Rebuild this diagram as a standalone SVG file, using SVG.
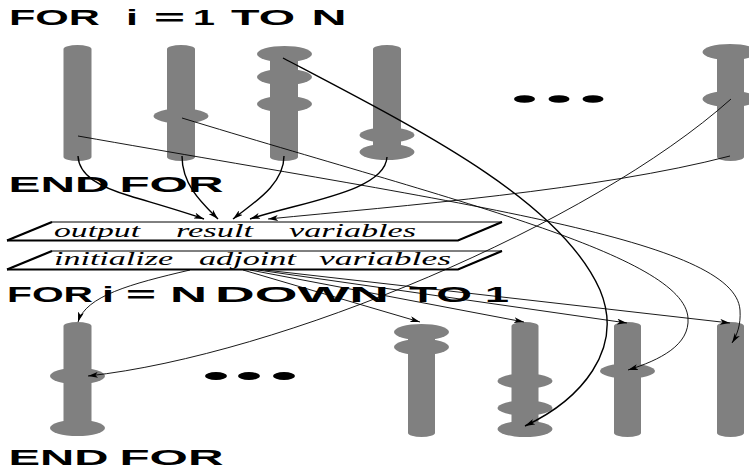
<svg xmlns="http://www.w3.org/2000/svg" width="749" height="470" viewBox="0 0 749 470">
  <style>
    .col { fill: #808080; }
    .dot { fill: #000; }
    .head { font-family: "Liberation Sans", Arial, sans-serif; font-weight: bold; font-size: 22px; fill: #000; }
    .lbl { font-family: "Liberation Serif", "Times New Roman", serif; font-style: italic; font-size: 18px; fill: #000; }
    .box { fill: #fff; stroke: #000; stroke-width: 1; }
    .shade { fill: none; stroke: #000; stroke-width: 2.2; }
    .thin { fill: none; stroke: #000; stroke-width: 0.9; marker-end: url(#ah); }
    .thick { fill: none; stroke: #000; stroke-width: 1.4; marker-end: url(#ah); }
  </style>
  <defs>
    <marker id="ah" viewBox="0 0 10 6" refX="10" refY="3" markerWidth="10" markerHeight="6" markerUnits="userSpaceOnUse" orient="auto">
      <path d="M0,0 L10,3 L0,6 L2.5,3 z" fill="#000"/>
    </marker>
  </defs>
  <rect width="749" height="470" fill="#fff"/>

  <!-- loop headings -->
  <g id="head-forward">
    <text class="head" x="9" y="25" textLength="91" lengthAdjust="spacingAndGlyphs">FOR</text>
    <text class="head" x="126" y="25" textLength="12" lengthAdjust="spacingAndGlyphs">i</text>
    <text class="head" x="154" y="25" textLength="31" lengthAdjust="spacingAndGlyphs">=</text>
    <text class="head" x="193" y="25" textLength="22" lengthAdjust="spacingAndGlyphs">1</text>
    <text class="head" x="231" y="25" textLength="64" lengthAdjust="spacingAndGlyphs">TO</text>
    <text class="head" x="311.5" y="25" textLength="35" lengthAdjust="spacingAndGlyphs">N</text>
  </g>
  <g id="head-forward-end">
    <text class="head" x="8.5" y="192" textLength="101" lengthAdjust="spacingAndGlyphs">END</text>
    <text class="head" x="119.5" y="192" textLength="104" lengthAdjust="spacingAndGlyphs">FOR</text>
  </g>
  <g id="head-reverse">
    <text class="head" x="7" y="302" textLength="86" lengthAdjust="spacingAndGlyphs">FOR</text>
    <text class="head" x="102" y="302" textLength="12" lengthAdjust="spacingAndGlyphs">i</text>
    <text class="head" x="126" y="302" textLength="30" lengthAdjust="spacingAndGlyphs">=</text>
    <text class="head" x="170" y="302" textLength="37" lengthAdjust="spacingAndGlyphs">N</text>
    <text class="head" x="215" y="302" textLength="174" lengthAdjust="spacingAndGlyphs">DOWN</text>
    <text class="head" x="409" y="302" textLength="63" lengthAdjust="spacingAndGlyphs">TO</text>
    <text class="head" x="485" y="302" textLength="24" lengthAdjust="spacingAndGlyphs">1</text>
  </g>
  <g id="head-reverse-end">
    <text class="head" x="8.5" y="465" textLength="100" lengthAdjust="spacingAndGlyphs">END</text>
    <text class="head" x="119.5" y="465" textLength="104" lengthAdjust="spacingAndGlyphs">FOR</text>
  </g>

  <!-- forward sweep: one bar per iteration -->
  <g id="fwd-1">
    <rect class="col" x="63.5" y="45" width="28" height="116" rx="14" ry="4"/>
  </g>
  <g id="fwd-2">
    <rect class="col" x="167" y="45" width="28" height="116" rx="14" ry="4"/>
    <ellipse class="col" cx="181" cy="116" rx="27.5" ry="7.5"/>
  </g>
  <g id="fwd-3">
    <rect class="col" x="270" y="50" width="28" height="111" rx="14" ry="4"/>
    <ellipse class="col" cx="284.5" cy="54" rx="27.5" ry="8"/>
    <ellipse class="col" cx="284.5" cy="77" rx="27.5" ry="8"/>
    <ellipse class="col" cx="284.5" cy="104" rx="27.5" ry="8"/>
  </g>
  <g id="fwd-4">
    <rect class="col" x="373" y="45" width="28" height="110" rx="14" ry="4"/>
    <ellipse class="col" cx="387" cy="135" rx="27.5" ry="7.5"/>
    <ellipse class="col" cx="387" cy="152" rx="27.5" ry="8"/>
  </g>
  <g id="fwd-dots">
    <ellipse class="dot" cx="524.5" cy="99" rx="10.5" ry="3.8"/>
    <ellipse class="dot" cx="559" cy="99" rx="10.5" ry="3.8"/>
    <ellipse class="dot" cx="593" cy="99" rx="10.5" ry="3.8"/>
  </g>
  <g id="fwd-n">
    <rect class="col" x="717" y="48" width="27" height="113" rx="13.5" ry="4"/>
    <ellipse class="col" cx="730" cy="52" rx="27.5" ry="8"/>
    <ellipse class="col" cx="730" cy="99" rx="27.5" ry="8"/>
  </g>

  <!-- reverse sweep -->
  <g id="rev-1">
    <rect class="col" x="63.5" y="322" width="28" height="108" rx="14" ry="4"/>
    <ellipse class="col" cx="77.5" cy="376" rx="27.5" ry="8"/>
    <ellipse class="col" cx="77.5" cy="428" rx="27.5" ry="8"/>
  </g>
  <g id="rev-dots">
    <ellipse class="dot" cx="216" cy="376" rx="11" ry="4"/>
    <ellipse class="dot" cx="249" cy="376" rx="11" ry="4"/>
    <ellipse class="dot" cx="284" cy="376" rx="11" ry="4"/>
  </g>
  <g id="rev-2">
    <rect class="col" x="408" y="330" width="27" height="107" rx="13.5" ry="4"/>
    <ellipse class="col" cx="421.5" cy="332" rx="27.5" ry="8"/>
    <ellipse class="col" cx="421.5" cy="347" rx="27.5" ry="8"/>
  </g>
  <g id="rev-3">
    <rect class="col" x="511.5" y="322" width="27" height="110" rx="13.5" ry="4"/>
    <ellipse class="col" cx="525" cy="381" rx="27.5" ry="7.5"/>
    <ellipse class="col" cx="525" cy="408" rx="27.5" ry="7.5"/>
    <ellipse class="col" cx="525" cy="429" rx="27.5" ry="8"/>
  </g>
  <g id="rev-4">
    <rect class="col" x="614" y="322" width="27" height="115" rx="13.5" ry="4"/>
    <ellipse class="col" cx="627.5" cy="371" rx="27.5" ry="7.5"/>
  </g>
  <g id="rev-n">
    <rect class="col" x="717" y="322" width="27" height="115" rx="13.5" ry="4"/>
  </g>

  <!-- variable blocks -->
  <g id="output-result">
    <polygon class="box" points="52,222 502,222 458,240.5 7,240.5"/>
    <path class="shade" d="M7,240.5 L458,240.5 L502,222"/>
    <path class="shade" d="M52,222 L7,240.5" stroke-width="1.6"/>
    <text class="lbl" x="54" y="237" textLength="86" lengthAdjust="spacingAndGlyphs">output</text>
    <text class="lbl" x="176" y="237" textLength="77" lengthAdjust="spacingAndGlyphs">result</text>
    <text class="lbl" x="289" y="237" textLength="127" lengthAdjust="spacingAndGlyphs">variables</text>
  </g>
  <g id="init-adjoint">
    <polygon class="box" points="52,251 502,251 458,269.5 7,269.5"/>
    <path class="shade" d="M7,269.5 L458,269.5 L502,251"/>
    <path class="shade" d="M52,251 L7,269.5" stroke-width="1.6"/>
    <text class="lbl" x="54" y="265" textLength="119" lengthAdjust="spacingAndGlyphs">initialize</text>
    <text class="lbl" x="199" y="265" textLength="97" lengthAdjust="spacingAndGlyphs">adjoint</text>
    <text class="lbl" x="319" y="265" textLength="132" lengthAdjust="spacingAndGlyphs">variables</text>
  </g>

  <!-- data flow -->
  <g id="connectors">
    <!-- forward bars into the output block -->
    <path class="thick" d="M78,156 C79,176 100,187 130,196 C160,205 185,212 204,219"/>
    <path class="thick" d="M182,156 C182,186 204,205 218,219"/>
    <path class="thick" d="M284,156 C284,186 250,205 233,219"/>
    <path class="thick" d="M387,157 C385,192 300,202 250,219"/>
    <path class="thin" d="M730,156 C600,190 400,206 268,219"/>

    <!-- forward values reused by the reverse sweep -->
    <path class="thin" d="M78,136 C470,205 735,240 740,310 C741,325 737,335 732,343"/>
    <path class="thin" d="M182,118 C450,200 684,255 688,318 C690,345 660,360 628,370"/>
    <path class="thick" d="M283,58 C420,130 560,200 600,290 C625,350 580,400 525,426"/>
    <path class="thin" d="M731,99 C590,225 280,355 88,376"/>

    <!-- adjoint initialisation into the reverse sweep -->
    <path class="thin" d="M190,270 C130,284 86,296 78,322"/>
    <path class="thin" d="M243,270 L420,322"/>
    <path class="thin" d="M250,270 L524,322"/>
    <path class="thin" d="M258,270 L627,323"/>
    <path class="thin" d="M265,270 L730,323"/>
  </g>
</svg>
